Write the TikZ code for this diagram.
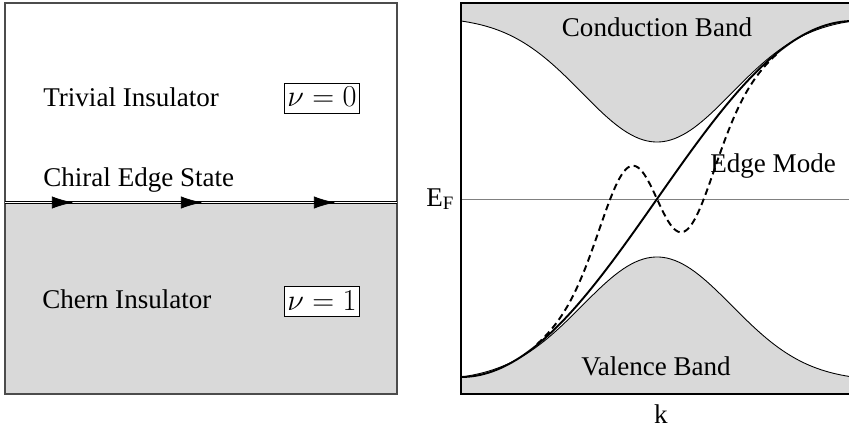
\documentclass[tikz,border=0pt]{standalone}
\usepackage[no-math]{fontspec}
\setmainfont{Liberation Serif}
\usetikzlibrary{arrows.meta}
\tikzset{
  panel/.style={line width=0.7pt},
  band/.style={fill=gray!30},
  bandline/.style={line width=0.5pt},
  edgecurve/.style={line width=1.1pt},
  phase/.style={anchor=base west, inner sep=0pt, font=\fontsize{15.4}{18}\selectfont},
  invariant/.style={draw, fill=white, line width=0.5pt, inner xsep=1.7pt, inner ysep=2.4pt,
    text depth=1pt, anchor=base, font=\fontsize{17.4}{20}\selectfont},
  declare function={
    cond(\x)=21+125.11*(exp(-\x*\x/1.125)-0.03289);
    vale(\x)=377-124.08*(exp(-\x*\x/1.125)-0.03289);
    chir(\x)=199-178*sin(90*\x/1.96);
    wigg(\x)=chir(\x)+360*\x*exp(-\x*\x/0.2304);
  }
}

\begin{document}
\begin{tikzpicture}[x=0.02cm,y=-0.02cm]
\useasboundingbox (0,0) rectangle (849,429);

% real space: trivial on top, Chern below
\fill[band] (5,202.5) rectangle (397,394);
\draw[panel, black!70] (5,3) rectangle (397,394);
\draw[line width=0.65pt, double=white, double distance=0.7pt] (5,202.5) -- (397,202.5);
\foreach \x in {73,202,335}
{
  \draw[-{Latex[length=12pt,width=7pt]}] (\x-1,202.5) -- (\x,202.5);
}
\node[phase] (trivial) at (43,107) {Trivial Insulator};
\node[phase] (chiral) at (43,187) {Chiral Edge State};
\node[phase] (chern) at (42,308) {Chern Insulator};
\node[invariant] (nu0) at (322,107) {$\nu=0$};
\node[invariant] (nu1) at (322,310) {$\nu=1$};

% band structure
\fill[band] (461,3) -- plot[domain=-1.96:1.96, samples=100] ({657+100*\x},{cond(\x)}) -- (853,3) -- cycle;
\fill[band] (461,394) -- plot[domain=-1.96:1.96, samples=100] ({657+100*\x},{vale(\x)}) -- (853,394) -- cycle;
\draw[gray, line width=0.5pt] (461,199) -- (853,199);
\draw[bandline] plot[domain=-1.96:1.96, samples=100] ({657+100*\x},{cond(\x)});
\draw[bandline] plot[domain=-1.96:1.96, samples=100] ({657+100*\x},{vale(\x)});
\draw[edgecurve] plot[domain=-1.96:1.96, samples=100] ({657+100*\x},{chir(\x)});
\draw[edgecurve, dash pattern=on 3.8pt off 2.4pt] plot[domain=-1.2:1.2, samples=120, smooth] ({657+100*\x},{wigg(\x)});
\draw[panel] (853,3) -- (461,3) -- (461,394) -- (853,394);

\node[phase, anchor=base] (cband) at (657,37) {Conduction Band};
\node[phase, anchor=base] (vband) at (656,375) {Valence Band};
\node[phase] (mode) at (710,173) {Edge Mode};
\node[phase] (fermi) at (426,206) {E\textsubscript{F}};
\node[phase, anchor=base] (kaxis) at (661,423) {k};
\end{tikzpicture}
\end{document}
